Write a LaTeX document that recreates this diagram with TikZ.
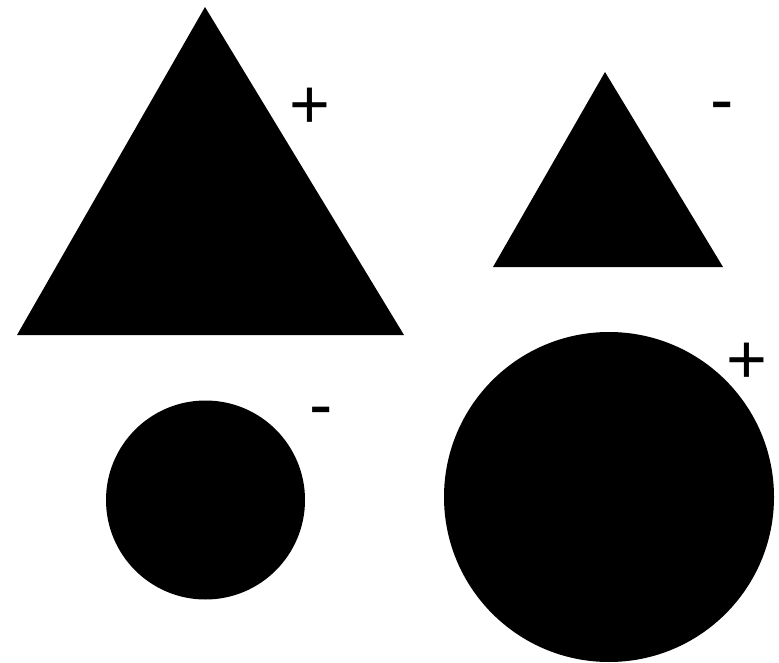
\documentclass[tikz,border=0pt]{standalone}
\usepackage{fontspec}
\setmainfont{Liberation Sans}
\begin{document}
\begin{tikzpicture}[x=1pt,y=-1pt,
  solidshape/.style={fill=black},
  sign/.style={inner sep=0pt,anchor=base,font=\fontsize{70}{70}\selectfont}]
\useasboundingbox (0,0) rectangle (779,663);
\fill[solidshape] (205,7) -- (404,335) -- (17,335) -- cycle;
\fill[solidshape] (605,72) -- (723,267) -- (493,267) -- cycle;
\fill[solidshape] (205.5,500) circle[radius=99.5];
\fill[solidshape] (609,497) circle[radius=165];
\node[sign] (p1) at (309.5,128.7) {+};
\node[sign] (m1) at (722,123.6) {-};
\node[sign] (m2) at (321,428.6) {-};
\node[sign] (p2) at (747,383.7) {+};
\end{tikzpicture}
\end{document}
